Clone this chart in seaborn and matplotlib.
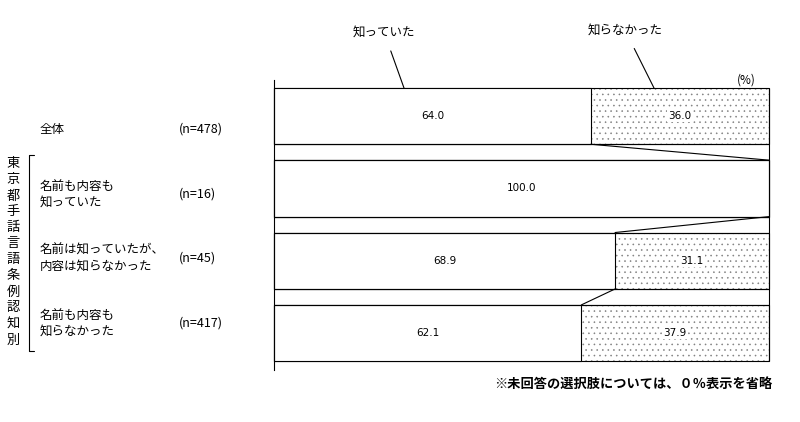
import matplotlib
matplotlib.use('Agg')
import matplotlib.pyplot as plt
import seaborn as sns
import pandas as pd

# ── data ──────────────────────────────────────────────────────────────
groups   = ['全体', '名前も内容も\n知っていた', '名前は知っていたが、\n内容は知らなかった', '名前も内容も\n知らなかった']
n_labels = ['(n=478)', '(n=16)', '(n=45)', '(n=417)']
knew     = [64.0, 100.0, 68.9, 62.1]
not_knew = [36.0, 0.0, 31.1, 37.9]
series   = ['知っていた', '知らなかった']
side_title = '東京都手話言語条例認知別'
note = '※未回答の選択肢については、０％表示を省略'

df = pd.DataFrame({'group': groups, 'knew': knew, 'not_knew': not_knew})
df['total'] = df['knew'] + df['not_knew']

sns.set_theme(style='white')
plt.rcParams['font.family'] = ['Noto Sans CJK JP', 'DejaVu Sans']
plt.rcParams['text.color'] = 'black'
plt.rcParams['hatch.linewidth'] = 0.4

W, H = 800, 422
fig = plt.figure(figsize=(W / 100, H / 100), dpi=100)
# axes: x 274..769 px maps to 0..100 %, y 80..370 px
ax = fig.add_axes([274 / W, (H - 370) / H, (769 - 274) / W, (370 - 80) / H])

BW = 0.78
# dotted layer (gray dots), then black outline, then white "knew" part on top
sns.barplot(data=df, x='total', y='group', orient='h', color='white',
            edgecolor='#808080', linewidth=0, hatch='...', width=BW,
            saturation=1, ax=ax)
sns.barplot(data=df, x='total', y='group', orient='h', fill=False,
            edgecolor='black', linewidth=0.8, width=BW, ax=ax)
sns.barplot(data=df, x='knew', y='group', orient='h', color='white',
            edgecolor='black', linewidth=0.8, width=BW, saturation=1, ax=ax)
for p in ax.patches:
    p.set_clip_on(False)

ax.set_xlim(0, 100)
ax.set_ylim(3.51, -0.498)
ax.set_xlabel('')
ax.set_ylabel('')
ax.set_xticks([])
ax.set_yticks([])
for s in ['top', 'right', 'bottom']:
    ax.spines[s].set_visible(False)
ax.spines['left'].set_color('black')
ax.spines['left'].set_linewidth(0.8)

# right frame line and connector lines between bars
ax.vlines(100, -BW / 2, len(groups) - 1 + BW / 2, color='black', lw=0.8,
          clip_on=False)
for i in range(len(groups) - 1):
    ax.hlines([i + BW / 2, i + 1 - BW / 2], 0, 100, color='black', lw=0.8)
    ax.plot([knew[i], knew[i + 1]], [i + BW / 2, i + 1 - BW / 2],
            color='black', lw=0.8)

# value labels
for i, (k, u) in enumerate(zip(knew, not_knew)):
    ax.text(k / 2, i, f'{k:.1f}', ha='center', va='center', fontsize=7.5,
            family='DejaVu Sans')
    if u > 0:
        ax.text(k + u / 2, i, f'{u:.1f}', ha='center', va='center',
                fontsize=7.5, family='DejaVu Sans',
                bbox=dict(facecolor='white', edgecolor='none', pad=1))

# series callouts
def px(x, y):
    return x / W, 1 - y / H

ax.annotate(series[0], xy=px(404, 88), xycoords='figure fraction',
            xytext=px(384, 32), textcoords='figure fraction',
            ha='center', va='center', fontsize=9,
            arrowprops=dict(arrowstyle='-', color='black', lw=0.8,
                            shrinkA=7, shrinkB=0))
ax.annotate(series[1], xy=px(654, 88), xycoords='figure fraction',
            xytext=px(625, 30), textcoords='figure fraction',
            ha='center', va='center', fontsize=9,
            arrowprops=dict(arrowstyle='-', color='black', lw=0.8,
                            shrinkA=7, shrinkB=0))
fig.text(*px(746, 80), '(%)', ha='center', va='center', fontsize=8.5)

# row labels on the left
label_y = [129, 194, 258, 323]
for g, n, y in zip(groups, n_labels, label_y):
    fig.text(*px(40, y), g, ha='left', va='center', fontsize=9,
             linespacing=1.25)
    fig.text(*px(179, y), n, ha='left', va='center', fontsize=9)

# bracket + vertical title
fig.add_artist(plt.Line2D([34 / W, 29 / W, 29 / W, 34 / W],
                          [1 - 155 / H, 1 - 155 / H, 1 - 351 / H, 1 - 351 / H],
                          color='black', lw=0.8))
fig.text(*px(13, 252), '\n'.join(side_title), ha='center', va='center',
         fontsize=9.5, linespacing=1.3)

fig.text(*px(772, 384), note, ha='right', va='center', fontsize=9.5,
         fontweight='bold')

fig.savefig('out.png', dpi=100, facecolor='white')
